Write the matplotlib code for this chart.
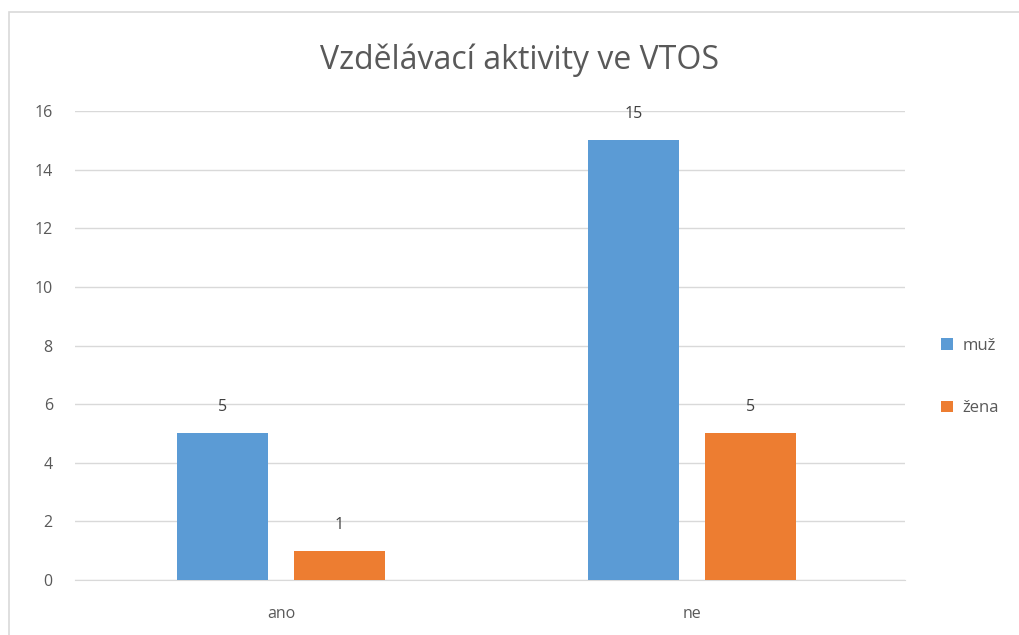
import matplotlib.pyplot as plt
import numpy as np
from matplotlib.patches import Rectangle

plt.rcParams['font.family'] = ['Open Sans', 'DejaVu Sans']

categories = ["ano", "ne"]
series_names = ["muž", "žena"]
muz = [5, 15]
zena = [1, 5]
colors = ["#5B9BD5", "#ED7D31"]

fig = plt.figure(figsize=(10.19, 6.35), dpi=100)
ax = fig.add_axes([75 / 1019, 1 - 580 / 635, 830 / 1019, 469 / 635])

# outer chart border (light gray), running off the right/bottom edge
fig.patches.append(Rectangle((9 / 1019, -0.5), 2, 0.5 + 1 - 12 / 635,
                             transform=fig.transFigure, fill=False,
                             edgecolor="#d9d9d9", linewidth=1.2, zorder=0))

x = np.arange(len(categories))
w = 0.222
off = 0.142
bars = []
for vals, name, col, dx in zip([muz, zena], series_names, colors, [-off, off]):
    b = ax.bar(x + dx, vals, width=w, color=col, label=name, zorder=3)
    bars.append(b)
    for rect, v in zip(b, vals):
        ax.annotate(f"{v}", (rect.get_x() + rect.get_width() / 2, v),
                    xytext=(0, 13), textcoords="offset points",
                    ha="center", va="bottom", fontsize=11.5, color="#404040")

ax.set_xlim(-0.501, 1.518)
ax.set_ylim(0, 16)
ax.set_yticks(range(0, 17, 2))
ax.set_xticks(x)
ax.set_xticklabels(categories)
ax.yaxis.grid(True, color="#d9d9d9", linewidth=1, zorder=0)
ax.set_axisbelow(True)
for s in ["top", "right", "left"]:
    ax.spines[s].set_visible(False)
ax.spines["bottom"].set_color("#d9d9d9")
ax.tick_params(axis="both", length=0, labelsize=11.5, labelcolor="#595959")
ax.tick_params(axis="y", pad=16)
ax.tick_params(axis="x", pad=19)

fig.text(520 / 1019, 1 - 60 / 635, "Vzdělávací aktivity ve VTOS",
         ha="center", va="center", fontsize=23, color="#595959")

fig.legend(handles=bars, labels=series_names, loc="center left",
           bbox_to_anchor=(926 / 1019, 1 - 377 / 635), frameon=False,
           fontsize=12, labelcolor="#595959", handlelength=0.7,
           handleheight=0.7, handletextpad=0.6, labelspacing=2.8)

fig.savefig("out.png", dpi=100)
